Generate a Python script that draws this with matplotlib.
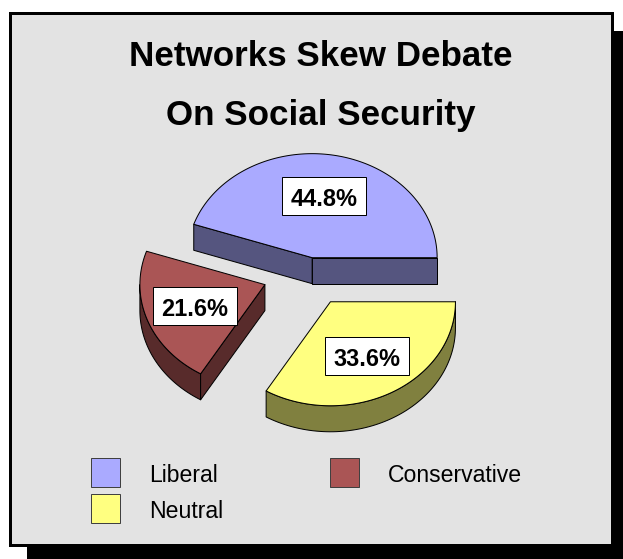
import numpy as np
import matplotlib
matplotlib.use('Agg')
from matplotlib import pyplot as plt
from matplotlib.patches import Polygon, Rectangle

title = 'Networks Skew Debate\nOn Social Security'
labels = ['Liberal', 'Neutral', 'Conservative']
shares = [44.8, 33.6, 21.6]
top_colors = ['#aaaaff', '#ffff80', '#aa5555']
side_colors = ['#55557f', '#80803f', '#582b2b']
explode = [0.13, 0.34, 0.38]

W, H = 623, 559
PT = 0.72  # one pixel in points at dpi 100
plt.rcParams['font.family'] = ['Liberation Sans', 'DejaVu Sans']

fig = plt.figure(figsize=(W / 100, H / 100), dpi=100)
fig.patch.set_facecolor('white')
ax = fig.add_axes([0, 0, 1, 1])
ax.set_xlim(0, W)
ax.set_ylim(H, 0)
ax.axis('off')

# panel with drop shadow
ax.add_patch(Rectangle((27, 31), 640, 560, facecolor='black', edgecolor='none', zorder=0))
ax.add_patch(Rectangle((9.5, 12.5), 602, 532, facecolor='#e3e3e3', edgecolor='black',
                       linewidth=3 * PT, zorder=1))

ax.text(321, 86, title, ha='center', va='center', fontsize=35 * PT, fontweight='bold',
        linespacing=2.02, zorder=5)

# 3d pie geometry (pixels)
cx, cy = 309.5, 271
a, b = 125, 104
depth = 26
start = 161.28


def rim(x0, y0, t):
    t = np.radians(t)
    return x0 + a * np.cos(t), y0 - b * np.sin(t)


bounds = start - np.concatenate([[0], np.cumsum(shares)]) * 3.6
slices = []
for i, v in enumerate(shares):
    hi, lo = bounds[i], bounds[i + 1]
    mid = (hi + lo) / 2
    m = np.radians(mid)
    x0 = cx + explode[i] * a * np.cos(m)
    y0 = cy - explode[i] * b * np.sin(m)
    slices.append((i, lo, hi, mid, x0, y0))

# back slices first
slices.sort(key=lambda s: -np.sin(np.radians(s[3])))

for i, lo, hi, mid, x0, y0 in slices:
    kw = dict(edgecolor='black', linewidth=1 * PT, joinstyle='round', zorder=2)
    # curved outer wall, front half only
    for k in (-1, 0, 1):
        s0, s1 = max(lo, -180 + 360 * k), min(hi, 360 * k)
        if s1 - s0 > 0.5:
            t = np.linspace(s0, s1, 80)
            xs, ys = rim(x0, y0, t)
            pts = np.column_stack([np.r_[xs, xs[::-1]], np.r_[ys, ys[::-1] + depth]])
            ax.add_patch(Polygon(pts, facecolor=side_colors[i], **kw))
    # radial walls facing the viewer
    for ang, show in ((lo, np.cos(np.radians(lo)) > 0), (hi, np.cos(np.radians(hi)) < 0)):
        if show:
            rx, ry = rim(x0, y0, ang)
            pts = [(x0, y0), (rx, ry), (rx, ry + depth), (x0, y0 + depth)]
            ax.add_patch(Polygon(pts, facecolor=side_colors[i], **kw))
    # top face
    t = np.linspace(lo, hi, 150)
    xs, ys = rim(x0, y0, t)
    pts = np.column_stack([np.r_[x0, xs], np.r_[y0, ys]])
    ax.add_patch(Polygon(pts, facecolor=top_colors[i], **kw))

    # value label
    lx = x0 + 0.6 * a * np.cos(np.radians(mid))
    ly = y0 - 0.6 * b * np.sin(np.radians(mid))
    ax.add_patch(Rectangle((lx - 42, ly - 19), 84, 38, facecolor='white', edgecolor='black',
                           linewidth=1 * PT, zorder=6))
    ax.text(lx, ly + 1, f'{shares[i]:.1f}%', ha='center', va='center_baseline',
            fontsize=23.5 * PT, fontweight='bold', zorder=7)

# legend
legend_pos = [(91, 458), (91, 494), (330, 458)]
for (x, y), lab, col in zip(legend_pos, labels, top_colors):
    ax.add_patch(Rectangle((x, y), 29, 29, facecolor=col, edgecolor='#404040',
                           linewidth=1 * PT, zorder=3))
    ax.text(x + 58, y + 15, lab, ha='left', va='center_baseline', fontsize=23 * PT, zorder=3)

fig.savefig('out.png', dpi=100)
